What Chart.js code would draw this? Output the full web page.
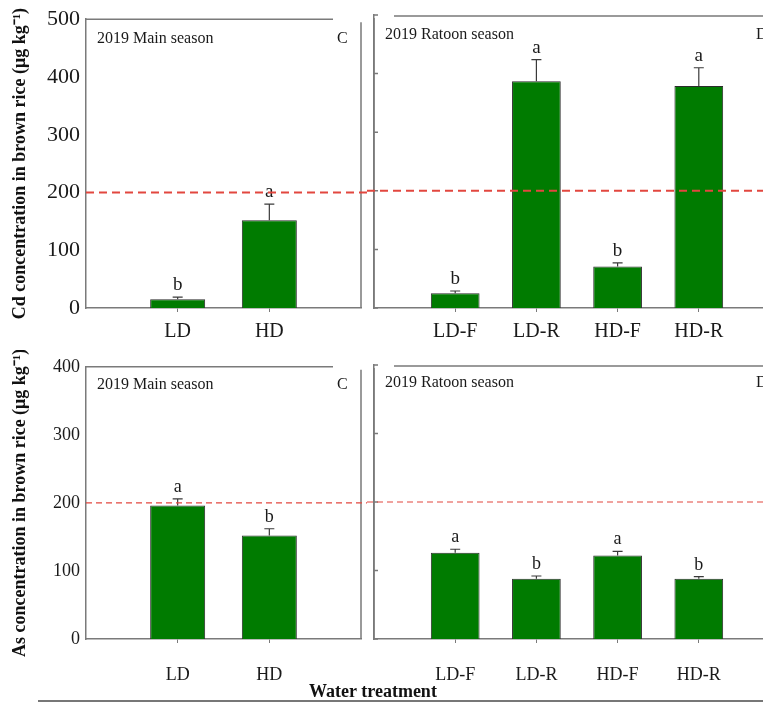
<!DOCTYPE html>
<html>
<head>
<meta charset="utf-8">
<script src="https://cdn.jsdelivr.net/npm/chart.js@4.4.1/dist/chart.umd.min.js"></script>
<style>
  html, body { margin: 0; padding: 0; background: #fff; overflow: hidden; }
  body { width: 763px; height: 703px; position: relative; }
  .panel { position: absolute; }
  #xtitle {
    position: absolute; left: 0; width: 746px; top: 681px; text-align: center;
    font: bold 18px 'Liberation Serif', 'Times New Roman', serif; color: #111;
  }
  #rule { position: absolute; left: 38px; right: 0; top: 700px; border-top: 2px solid #777; }
</style>
</head>
<body>
<div class="panel" style="left:0;top:0;width:367px;height:350px"><canvas id="cd-main"></canvas></div>
<div class="panel" style="left:367px;top:0;width:419px;height:350px"><canvas id="cd-ratoon"></canvas></div>
<div class="panel" style="left:0;top:350px;width:367px;height:340px"><canvas id="as-main"></canvas></div>
<div class="panel" style="left:367px;top:350px;width:419px;height:340px"><canvas id="as-ratoon"></canvas></div>
<div id="xtitle">Water treatment</div>
<div id="rule"></div>
<script>
// Data
const mainLabels = ['LD', 'HD'];
const ratoonLabels = ['LD-F', 'LD-R', 'HD-F', 'HD-R'];

const cdMainMean = [15, 152];
const cdMainErr = [4, 28];
const cdMainLetters = ['b', 'a'];

const cdRatoonMean = [25, 387, 71, 379];
const cdRatoonErr = [4, 37, 6, 31];
const cdRatoonLetters = ['b', 'a', 'b', 'a'];

const asMainMean = [196, 152];
const asMainErr = [10, 10];
const asMainLetters = ['a', 'b'];

const asRatoonMean = [126, 88, 122, 88];
const asRatoonErr = [5, 4, 6, 3];
const asRatoonLetters = ['a', 'b', 'a', 'b'];

const cdLimit = 200;
const asLimit = 200;

const FONT = "'Liberation Serif', 'Times New Roman', serif";
const axisGray = '#7a7a7a';
const barGreen = '#007b00';
const limitRed = '#e2473f';

// errors, letters, limit line, frame and panel tags
const decoPlugin = {
  id: 'deco',
  afterDatasetsDraw(chart, args, o) {
    const { ctx, chartArea } = chart;
    const yScale = chart.scales.y;
    const meta = chart.getDatasetMeta(0);
    ctx.save();

    // frame
    ctx.strokeStyle = axisGray;
    ctx.lineWidth = 1.5;
    ctx.beginPath();
    if (o.side === 'left') {
      ctx.moveTo(chartArea.left, chartArea.top);
      ctx.lineTo(chartArea.right - 28, chartArea.top);
      ctx.moveTo(chartArea.right, chartArea.top + 3);
      ctx.lineTo(chartArea.right, chartArea.bottom);
    } else {
      ctx.moveTo(chartArea.left + 20, chartArea.top + 1);
      ctx.lineTo(chartArea.right, chartArea.top + 1);
      ctx.moveTo(chartArea.left, chartArea.top + 3);
      ctx.lineTo(chartArea.left, chartArea.bottom);
      // inward ticks
      yScale.ticks.forEach(t => {
        const py = yScale.getPixelForValue(t.value);
        ctx.moveTo(chartArea.left, py);
        ctx.lineTo(chartArea.left + 4, py);
      });
    }
    ctx.stroke();

    // error bars + letters
    ctx.strokeStyle = '#3a3a3a';
    ctx.lineWidth = 1.2;
    ctx.fillStyle = '#1a1a1a';
    ctx.font = o.letterSize + 'px ' + FONT;
    ctx.textAlign = 'center';
    ctx.textBaseline = 'alphabetic';
    o.means.forEach((m, i) => {
      const bar = meta.data[i + 1];
      const top = yScale.getPixelForValue(m + o.errs[i]);
      const base = yScale.getPixelForValue(m);
      ctx.beginPath();
      ctx.moveTo(bar.x, base);
      ctx.lineTo(bar.x, top);
      ctx.moveTo(bar.x - 5, top);
      ctx.lineTo(bar.x + 5, top);
      ctx.stroke();
      ctx.fillText(o.letters[i], bar.x, top - 7);
    });

    // limit line
    const ly = yScale.getPixelForValue(o.limit);
    ctx.strokeStyle = limitRed;
    ctx.lineWidth = o.dashWidth;
    ctx.setLineDash(o.dash);
    ctx.beginPath();
    ctx.moveTo(o.side === 'left' ? chartArea.left : 0, ly);
    ctx.lineTo(chart.width, ly);
    ctx.stroke();
    ctx.setLineDash([]);

    // panel tags
    ctx.font = '16px ' + FONT;
    ctx.textBaseline = 'middle';
    ctx.textAlign = 'left';
    ctx.fillStyle = '#1a1a1a';
    ctx.fillText(o.tag, chartArea.left + 11, chartArea.top + o.tagDy);
    ctx.fillText(o.tagLetter, chartArea.right - 24, chartArea.top + o.tagDy);
    ctx.restore();
  }
};

function makePanel(id, cfg) {
  const labels = ['', ...cfg.labels, ''];
  const last = labels.length - 1;
  const data = [null, ...cfg.means, null];
  const yAxis = {
    min: 0,
    max: cfg.max,
    ticks: {
      stepSize: 100,
      display: cfg.side === 'left',
      color: '#1a1a1a',
      padding: 6,
      font: { family: FONT, size: cfg.yTickSize },
    },
    grid: { display: false, drawTicks: false },
    border: { display: true, color: axisGray, width: 1.5 },
    afterFit: (scale) => { scale.width = cfg.side === 'left' ? 86 : 0; },
  };
  if (cfg.yTitle) {
    yAxis.title = {
      display: true,
      text: cfg.yTitle,
      color: '#111',
      font: { family: FONT, size: 18, weight: 'bold' },
      padding: { top: 10, bottom: 0 },
    };
  }
  return new Chart(document.getElementById(id), {
    type: 'bar',
    data: {
      labels: labels,
      datasets: [{
        data: data,
        backgroundColor: barGreen,
        borderColor: '#2c2c2c',
        borderWidth: 1,
        barPercentage: 0.6,
        categoryPercentage: 1,
      }],
    },
    options: {
      responsive: true,
      maintainAspectRatio: false,
      animation: false,
      layout: { padding: { left: cfg.side === 'left' ? 0 : 7, right: 6, top: 15, bottom: 0 } },
      scales: {
        x: {
          offset: false,
          ticks: {
            autoSkip: false,
            maxRotation: 0,
            color: '#1a1a1a',
            padding: 4,
            font: { family: FONT, size: cfg.xTickSize, lineHeight: cfg.xLineHeight },
          },
          grid: {
            offset: false,
            drawOnChartArea: false,
            drawTicks: true,
            tickLength: 4,
            color: (c) => (c.index === 0 || c.index === last) ? 'rgba(0,0,0,0)' : axisGray,
          },
          border: { display: true, color: axisGray, width: 1.5 },
          afterFit: (scale) => { scale.height = cfg.xHeight; },
        },
        y: yAxis,
      },
      plugins: {
        legend: { display: false },
        tooltip: { enabled: false },
        deco: {
          side: cfg.side,
          means: cfg.means,
          errs: cfg.errs,
          letters: cfg.letters,
          letterSize: cfg.letterSize,
          limit: cfg.limit,
          dash: cfg.dash,
          dashWidth: cfg.dashWidth,
          tag: cfg.tag,
          tagLetter: cfg.tagLetter,
          tagDy: cfg.tagDy,
        },
      },
    },
    plugins: [decoPlugin],
  });
}

const topRow = { max: 500, yTickSize: 22, xTickSize: 20, xLineHeight: 1.6, xHeight: 42, letterSize: 19,
  limit: cdLimit, dash: [8, 5], dashWidth: 2, tagDy: 20 };
const bottomRow = { max: 400, yTickSize: 18, xTickSize: 18, xLineHeight: 3.1, xHeight: 51, letterSize: 18,
  limit: asLimit, dash: [6, 4], dashWidth: 1.2, tagDy: 18 };

makePanel('cd-main', Object.assign({}, topRow, {
  side: 'left', labels: mainLabels, means: cdMainMean, errs: cdMainErr, letters: cdMainLetters,
  tag: '2019 Main season', tagLetter: 'C',
  yTitle: 'Cd concentration in brown rice (\u03bcg kg\u207b\u00b9)',
}));
makePanel('cd-ratoon', Object.assign({}, topRow, {
  side: 'right', labels: ratoonLabels, means: cdRatoonMean, errs: cdRatoonErr, letters: cdRatoonLetters,
  tag: '2019 Ratoon season', tagLetter: 'D',
}));
makePanel('as-main', Object.assign({}, bottomRow, {
  side: 'left', labels: mainLabels, means: asMainMean, errs: asMainErr, letters: asMainLetters,
  tag: '2019 Main season', tagLetter: 'C',
  yTitle: 'As concentration in brown rice (\u03bcg kg\u207b\u00b9)',
}));
makePanel('as-ratoon', Object.assign({}, bottomRow, {
  side: 'right', labels: ratoonLabels, means: asRatoonMean, errs: asRatoonErr, letters: asRatoonLetters,
  tag: '2019 Ratoon season', tagLetter: 'D',
}));
</script>
</body>
</html>
